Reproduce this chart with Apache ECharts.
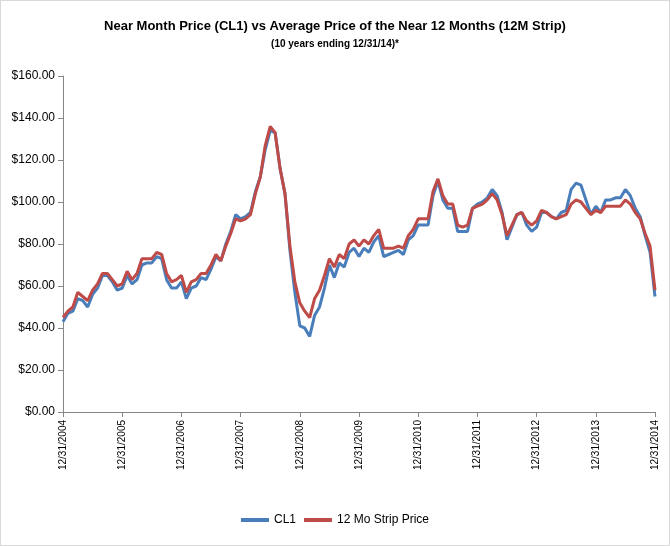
<!DOCTYPE html>
<html><head><meta charset="utf-8">
<script src="https://cdn.jsdelivr.net/npm/echarts@6/dist/echarts.min.js"></script>
<style>body{margin:0}#c{width:668px;height:544px;border:1px solid #d9d9d9}</style>
</head><body><div id="c"></div>
<script>
// monthly values, Dec 2004 .. Dec 2014
var startYear = 2004;
var cl1 = [43,
  47,48,54,53,50,56,59,65,65,62,58,59,
  65,61,63,70,71,71,74,73,63,59,59,62,
  54,59,60,64,63,68,74,72,80,86,94,92,
  93,95,105,112,125,134,133,116,104,77,57,41,
  40,36,46,50,59,70,64,71,69,76,78,74,
  78,76,81,84,74,75,76,77,75,82,84,89,
  89,89,103,110,101,97,97,86,86,86,97,99,
  100,102,106,103,95,82,88,94,95,89,86,88,
  95,95,93,92,95,96,106,109,108,101,94,98,
  95,101,101,102,102,106,103,97,93,84,76,55];
var strip = [45,
  48,50,57,55,53,58,61,66,66,63,60,61,
  67,63,66,73,73,73,76,75,66,62,63,65,
  57,62,63,66,66,70,75,72,79,85,92,91,
  92,94,104,112,127,136,133,116,104,79,62,52,
  48,45,54,58,65,73,69,75,73,80,82,79,
  82,80,84,87,78,78,78,79,78,84,87,92,
  92,92,105,111,103,99,99,89,88,89,97,98,
  99,101,104,101,94,84,89,94,95,91,89,91,
  96,95,93,92,93,94,99,101,100,97,94,96,
  95,98,98,98,98,101,99,95,92,85,79,58];
var yTicks = [0,20,40,60,80,100,120,140,160];

var cats = cl1.map(function (v, i) { return 'm' + i; });
function label(i) { return '12/31/' + (startYear + Math.floor(i / 12)); }

var chart = echarts.init(document.getElementById('c'));
chart.setOption({
  animation: false,
  textStyle: {fontFamily: 'Liberation Sans, Arial, sans-serif'},
  title: {
    text: 'Near Month Price (CL1) vs Average Price of the Near 12 Months (12M Strip)',
    subtext: '(10 years ending 12/31/14)*',
    left: 'center', top: 14, itemGap: 6,
    textStyle: {fontSize: 13, fontWeight: 'bold', color: '#000'},
    subtextStyle: {fontSize: 10, fontWeight: 'bold', color: '#000'}
  },
  legend: {
    bottom: 14, left: 'center', itemWidth: 28, itemHeight: 4, icon: 'rect',
    textStyle: {fontSize: 12, color: '#000'},
    data: ['CL1', '12 Mo Strip Price']
  },
  grid: {left: 62, right: 14, top: 75, bottom: 133},
  xAxis: {
    type: 'category', data: cats, boundaryGap: false,
    axisLine: {lineStyle: {color: '#868686'}},
    axisTick: {interval: function (i) { return i % 12 === 0; }, length: 5, lineStyle: {color: '#868686'}},
    axisLabel: {interval: function (i) { return i % 12 === 0; }, rotate: 90, fontSize: 10, color: '#000',
      formatter: function (v, i) { return label(i); }},
    splitLine: {show: false}
  },
  yAxis: {
    type: 'value', min: yTicks[0], max: yTicks[yTicks.length - 1], interval: 20,
    axisLine: {show: true, lineStyle: {color: '#868686'}},
    axisTick: {show: true, lineStyle: {color: '#868686'}},
    axisLabel: {fontSize: 12, color: '#000', formatter: function (v) { return '$' + v.toFixed(2); }},
    splitLine: {show: false}
  },
  series: [
    {name: 'CL1', type: 'line', data: cl1, showSymbol: false,
      lineStyle: {width: 3, color: '#4a7ebb'}, itemStyle: {color: '#4a7ebb'}},
    {name: '12 Mo Strip Price', type: 'line', data: strip, showSymbol: false,
      lineStyle: {width: 3, color: '#be4b48'}, itemStyle: {color: '#be4b48'}}
  ]
});
</script></body></html>
